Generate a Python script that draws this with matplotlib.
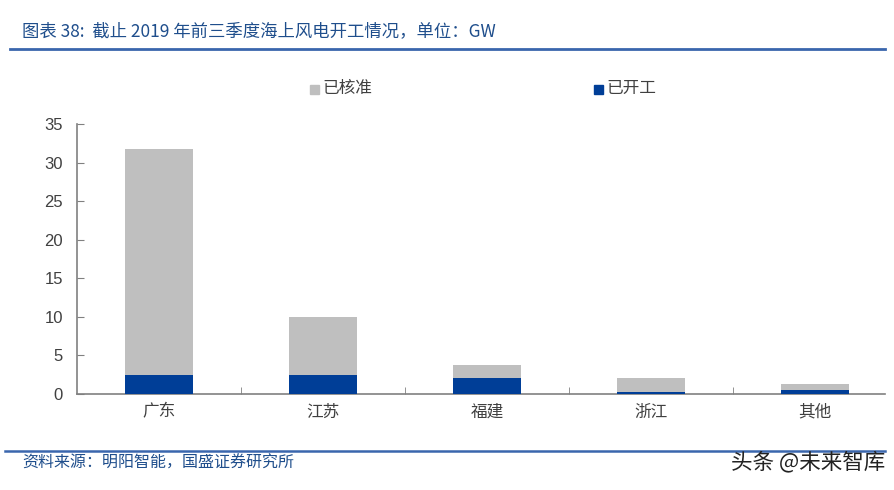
import numpy as np
import matplotlib
matplotlib.use("Agg")
import matplotlib.pyplot as plt
from matplotlib.patches import Rectangle
from matplotlib.lines import Line2D

plt.rcParams['font.family'] = ['Noto Sans CJK SC', 'DejaVu Sans']

# data (GW)
provinces = ["广东", "江苏", "福建", "浙江", "其他"]
approved = [31.8, 10.0, 3.7, 2.1, 1.3]
started = [2.4, 2.4, 2.1, 0.3, 0.5]
yticks = [0, 5, 10, 15, 20, 25, 30, 35]

gray = "#BFBFBF"
blue = "#003E97"
axis_col = "#808080"
title_col = "#1F4E8C"

fig = plt.figure(figsize=(8.95, 4.9), dpi=100)
ax = fig.add_axes([77/895, 1-394/490, (885-77)/895, (394-124)/490])

x = np.arange(len(provinces))
ax.bar(x, approved, width=0.41, color=gray, label="已核准", zorder=2)
ax.bar(x, started, width=0.41, color=blue, label="已开工", zorder=3)

ax.set_ylim(0, 35)
ax.set_xlim(-0.5, 4.5 - 12/164)
ax.set_yticks(yticks)
ax.set_yticklabels([str(v) for v in yticks], fontsize=12, color="#404040", family="Liberation Sans")
ax.set_xticks(x)
ax.set_xticklabels(provinces, fontsize=12, color="#404040")
ax.tick_params(axis='x', length=0, pad=7)
ax.tick_params(axis='y', direction='in', length=5, color=axis_col, pad=10)
# small ticks between the categories
ax.set_xticks(x[:-1] + 0.5, minor=True)
ax.tick_params(axis='x', which='minor', direction='in', length=5, color=axis_col)

for s in ["top", "right"]:
    ax.spines[s].set_visible(False)
for s in ["left", "bottom"]:
    ax.spines[s].set_color(axis_col)
    ax.spines[s].set_linewidth(1.2)

# legend
fig.patches.append(Rectangle((310/895, 1-94/490), 9/895, 9/490, transform=fig.transFigure, color=gray))
fig.text(322/895, 1-88/490, "已核准", fontsize=12, color="#404040", va="center")
fig.patches.append(Rectangle((594/895, 1-94/490), 9/895, 9/490, transform=fig.transFigure, color=blue))
fig.text(606/895, 1-88/490, "已开工", fontsize=12, color="#404040", va="center")

# header / footer
fig.text(22/895, 1-31/490, "图表 38:  截止 2019 年前三季度海上风电开工情况，单位：GW",
         fontsize=12.5, color=title_col, va="center", style="italic")
fig.lines.append(Line2D([10/895, 885/895], [1-49/490, 1-49/490], transform=fig.transFigure,
                        color="#3A66AD", linewidth=2))
fig.lines.append(Line2D([5/895, 885/895], [1-451/490, 1-451/490], transform=fig.transFigure,
                        color="#3A66AD", linewidth=1.8))
fig.text(22/895, 1-463/490, "资料来源：明阳智能，国盛证券研究所", fontsize=11.5,
         color=title_col, va="center", style="italic")
fig.text(885/895, 1-462/490, "头条 @未来智库", fontsize=15.5, color="#222222",
         va="center", ha="right")

fig.savefig("out.png", dpi=100)
